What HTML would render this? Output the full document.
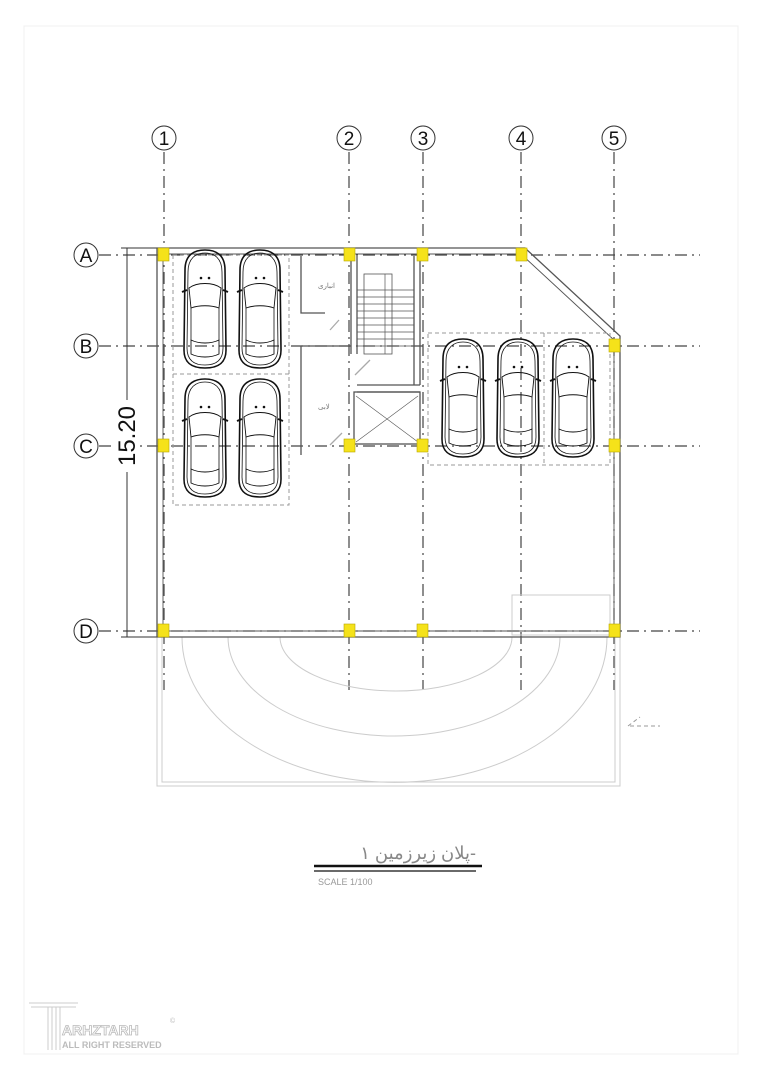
<!DOCTYPE html>
<html><head><meta charset="utf-8"><style>
html,body{margin:0;padding:0;background:#fff}
svg{display:block}
text{font-family:"Liberation Sans",sans-serif}
</style></head><body>
<svg width="763" height="1080" viewBox="0 0 763 1080" xmlns="http://www.w3.org/2000/svg">
<defs>
<g id="car" fill="none" stroke="#111">
  <path d="M4,20 C4,4 14,0 24,0 C34,0 44,4 44,20 L45,100 C45,114 36,118 24,118 C12,118 3,114 3,100 Z" stroke-width="1.6"/>
  <path d="M7,22 C7,8 15,3 24,3 C33,3 41,8 41,22 L42,98 C42,111 34,115 24,115 C14,115 6,111 6,98 Z" stroke-width="0.8"/>
  <path d="M8,38 C16,32 32,32 40,38 L38,58 C30,55 18,55 10,58 Z" stroke-width="0.9"/>
  <path d="M10,58 L10,90 M38,58 L38,90" stroke-width="0.8"/>
  <path d="M10,90 C18,94 30,94 38,90 L38,104 C30,108 18,108 10,104 Z" stroke-width="0.9"/>
  <path d="M1,42 L6,40 M47,42 L42,40" stroke-width="2"/>
  <circle cx="20" cy="28" r="0.8" fill="#111"/><circle cx="28" cy="28" r="0.8" fill="#111"/>
</g>
</defs>
<rect x="24" y="26" width="714" height="1028" fill="none" stroke="#f0f0f0" stroke-width="1"/>

<g stroke="#444" stroke-width="1.2" stroke-dasharray="12,5,2,5">
  <line x1="164" y1="152" x2="164" y2="690"/>
  <line x1="349" y1="152" x2="349" y2="690"/>
  <line x1="423" y1="152" x2="423" y2="690"/>
  <line x1="521" y1="152" x2="521" y2="690"/>
  <line x1="614" y1="152" x2="614" y2="690"/>
  <line x1="99" y1="255" x2="700" y2="255"/>
  <line x1="99" y1="346" x2="700" y2="346"/>
  <line x1="99" y1="446" x2="700" y2="446"/>
  <line x1="99" y1="631" x2="700" y2="631"/>
</g>
<g fill="#fff" stroke="#333" stroke-width="1">
  <circle cx="164" cy="138" r="12"/><circle cx="349" cy="138" r="12"/><circle cx="423" cy="138" r="12"/><circle cx="521" cy="138" r="12"/><circle cx="614" cy="138" r="12"/>
  <circle cx="86" cy="255" r="12"/><circle cx="86" cy="346" r="12"/><circle cx="86" cy="446" r="12"/><circle cx="86" cy="631" r="12"/>
</g>
<g font-size="19" text-anchor="middle" fill="#111">
  <text x="164" y="145">1</text><text x="349" y="145">2</text><text x="423" y="145">3</text><text x="521" y="145">4</text><text x="614" y="145">5</text>
  <text x="86" y="262">A</text><text x="86" y="353">B</text><text x="86" y="453">C</text><text x="86" y="638">D</text>
</g>

<g stroke="#333" stroke-width="1">
  <line x1="127" y1="248" x2="127" y2="637"/>
  <line x1="121" y1="248" x2="160" y2="248"/>
  <line x1="121" y1="637" x2="160" y2="637"/>
</g>
<rect x="114" y="400" width="26" height="72" fill="#fff"/>
<text x="0" y="0" font-size="24" text-anchor="middle" fill="#111" transform="translate(135,436) rotate(-90)">15.20</text>

<g fill="none" stroke="#ccc" stroke-width="1">
  <rect x="157" y="637" width="463" height="149"/>
  <rect x="162" y="637" width="453" height="145"/>
  <rect x="512" y="595" width="98" height="40"/>
  <path d="M280,637 A116,54 0 0 0 512,637"/>
  <path d="M228,637 A166,99 0 0 0 560,637"/>
  <path d="M182,637 A212,145 0 0 0 607,637"/>
  <path d="M628,726 L640,717 M630,726 L660,726" stroke-dasharray="4,3" stroke="#999"/>
</g>

<g fill="none" stroke="#555" stroke-width="1.3">
  <path d="M157,248 L525,248 L620,336 L620,637 L157,637 Z"/>
  <path d="M163,254 L521,254 L614,340 L614,631 L163,631 Z" stroke-width="0.9"/>
  <path d="M351,256 L351,354 M357,256 L357,354 M414,256 L414,385 M420,256 L420,385 M357,385 L420,385 M357,392 L420,392"/>
  <rect x="364" y="274" width="28" height="80" stroke-width="0.8"/>
  <path d="M357,290 L414,290 M357,297 L414,297 M357,304 L414,304 M357,311 L414,311 M357,318 L414,318 M357,325 L414,325 M357,332 L414,332 M357,339 L414,339 M357,346 L414,346 M385,274 L385,354" stroke-width="0.7"/>
  <rect x="354" y="392" width="66" height="52"/>
  <path d="M356,396 L418,442 M418,396 L356,442" stroke-width="0.6"/>
  <path d="M301,256 L301,313 L325,313 M301,346 L349,346 M301,346 L301,455 M345,346 L349,346" />
  <path d="M339,320 L330,330 M330,445 L342,433 M355,375 L370,360" stroke="#aaa"/>
</g>
<g font-size="7" fill="#777" font-family="Noto Sans CJK SC,sans-serif">
  <text x="318" y="288">انباری</text><text x="318" y="409">لابی</text>
</g>

<g fill="none" stroke="#999" stroke-width="1" stroke-dasharray="4,3">
  <rect x="173" y="255" width="116" height="250"/>
  <line x1="173" y1="374" x2="289" y2="374"/>
  <rect x="428" y="333" width="182" height="132"/>
  <line x1="544" y1="333" x2="544" y2="465"/>
</g>
<use href="#car" x="181" y="250"/>
<use href="#car" x="236" y="250"/>
<use href="#car" x="181" y="379"/>
<use href="#car" x="236" y="379"/>
<use href="#car" x="439" y="339"/>
<use href="#car" x="494" y="339"/>
<use href="#car" x="549" y="339"/>

<g fill="#f5e21a" stroke="#b8a800" stroke-width="0.6">
  <rect x="158" y="248" width="11" height="13"/><rect x="344" y="248" width="11" height="13"/><rect x="417" y="248" width="11" height="13"/><rect x="516" y="248" width="11" height="13"/>
  <rect x="609" y="339" width="11" height="13"/>
  <rect x="158" y="439" width="11" height="13"/><rect x="344" y="439" width="11" height="13"/><rect x="417" y="439" width="11" height="13"/><rect x="609" y="439" width="11" height="13"/>
  <rect x="158" y="624" width="11" height="13"/><rect x="344" y="624" width="11" height="13"/><rect x="417" y="624" width="11" height="13"/><rect x="609" y="624" width="11" height="13"/>
</g>

<text x="476" y="859" font-size="18" text-anchor="end" fill="#888" font-family="Liberation Serif,Noto Serif CJK SC,serif">پلان زیرزمین ۱-</text>
<line x1="314" y1="866" x2="482" y2="866" stroke="#111" stroke-width="2.5"/>
<line x1="314" y1="871" x2="476" y2="871" stroke="#111" stroke-width="1.2"/>
<text x="318" y="885" font-size="9" fill="#999" font-family="Liberation Serif,serif">SCALE 1/100</text>

<g fill="none" stroke="#ccc" stroke-width="1">
  <path d="M29,1003 L78,1003 M31,1007 L76,1007 M48,1007 L48,1050 M52,1007 L52,1050 M56,1007 L56,1050 M60,1007 L60,1050"/>
</g>
<text x="62" y="1035" font-size="14" fill="none" stroke="#bbb" stroke-width="0.8" font-weight="bold">ARHZTARH</text>
<text x="62" y="1048" font-size="9" fill="#bbb" font-weight="bold">ALL RIGHT RESERVED</text>
<text x="170" y="1023" font-size="7" fill="#bbb">©</text>
</svg>
</body></html>
